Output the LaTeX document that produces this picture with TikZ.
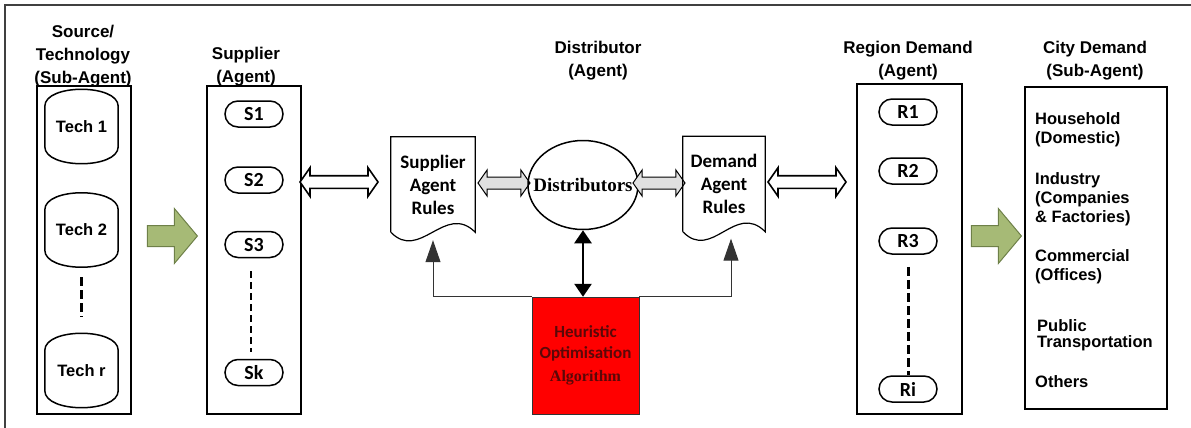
\documentclass[tikz,border=0pt]{standalone}
\usepackage{fontspec}
\setmainfont{Liberation Sans}
\newfontfamily\calibfont{Carlito}
\newfontfamily\timesfont{Liberation Serif}
\usetikzlibrary{shapes.misc,shapes.geometric,shapes.arrows,arrows.meta}
\definecolor{arrowgreen}{RGB}{166,186,118}
\definecolor{arrowedge}{RGB}{110,128,72}
\definecolor{heurtext}{RGB}{90,8,8}
\begin{document}
\begin{tikzpicture}[x=1pt,y=-1pt,
  hd/.style={font=\bfseries\fontsize{17}{23}\selectfont,align=center},
  box/.style={draw,line width=1.3pt,inner sep=0pt},
  can/.style={minimum width=73pt,minimum height=74pt,inner sep=0pt,font=\bfseries\fontsize{16.5}{19}\selectfont},
  pill/.style={rounded rectangle,draw,line width=1.5pt,minimum width=58pt,minimum height=26pt,inner sep=0pt,text depth=0pt,font=\calibfont\bfseries\fontsize{20}{20}\selectfont},
  doc/.style={minimum height=95pt,inner sep=0pt,align=center,font=\calibfont\bfseries\fontsize{19}{23}\selectfont},
  city/.style={anchor=west,align=left,inner sep=0pt,font=\bfseries\fontsize{16.5}{19}\selectfont},
  greenarrow/.style={single arrow,draw=arrowedge,fill=arrowgreen,line width=1pt,minimum height=50pt,inner xsep=0pt,inner ysep=10pt,single arrow head extend=17pt,single arrow tip angle=100},
  hollow/.style={double arrow,draw,line width=1.6pt,fill=white,minimum height=78pt,inner xsep=0pt,inner ysep=5.5pt,double arrow head extend=8pt,double arrow tip angle=110},
  grayarrow/.style={double arrow,draw,line width=1pt,fill=black!12,minimum height=52pt,inner xsep=0pt,inner ysep=5.5pt,double arrow head extend=7pt,double arrow tip angle=110},
  dash3/.style={line width=3pt,dash pattern=on 9pt off 4pt}]
\useasboundingbox (0,0) rectangle (1191,428);
\draw[line width=1.5pt,black!75](1191,5)--(5,5)--(5,428);
\node[hd](srch)at(83,56){Source/\\Technology\\(Sub-Agent)};
\node[box,minimum width=94pt,minimum height=328pt](techbox)at(84,250){};
\node[can](t1)at(81.5,126.5){Tech 1};
\node[can](t2)at(81.5,230){Tech 2};
\node[can](tr)at(81.5,370.5){Tech r};
\foreach \n in {t1,t2,tr}
  \draw[line width=1.5pt]([yshift=-17pt]\n.north west)..controls([yshift=5.7pt]\n.north west)and([yshift=5.7pt]\n.north east)..([yshift=-17pt]\n.north east)
    --([yshift=17pt]\n.south east)..controls([yshift=-5.7pt]\n.south east)and([yshift=-5.7pt]\n.south west)..([yshift=17pt]\n.south west)--cycle;
\draw[dash3]([yshift=-10pt]t2.south)--([yshift=16pt]tr.north);
\node[greenarrow](g1)at(168,236){};
\node[hd](suph)at(246,67){Supplier\\(Agent)};
\node[box,minimum width=94pt,minimum height=328pt](supbox)at(254,250){};
\node[pill](s1)at(254,114){S1};
\node[pill](s2)at(254,180){S2};
\node[pill](s3)at(254,244.5){S3};
\node[pill](sk)at(254,372.5){Sk};
\draw[line width=2pt,dash pattern=on 7pt off 4pt]([xshift=-3pt,yshift=-13pt]s3.south)--([xshift=-3pt,yshift=7pt]sk.north);
\node[hollow](h1)at(339,182){};
\node[doc,minimum width=84pt](sar)at(433,184.5){Supplier\\Agent\\Rules};
\node[grayarrow](g2)at(504,183){};
\node[ellipse,draw,line width=1.5pt,minimum width=110pt,minimum height=89pt,inner sep=0pt,
  label={[font=\timesfont\bfseries\fontsize{19}{19}\selectfont]center:Distributors}](dist)at(583,185){};
\node[grayarrow](g3)at(659,183){};
\node[doc,minimum width=82pt](dar)at(724,184){Demand\\Agent\\Rules};
\foreach \n in {sar,dar}
  \draw[line width=1.2pt](\n.south west)--(\n.north west)--(\n.north east)--(\n.south east)
    ..controls([xshift=-30pt,yshift=30pt]\n.south east)and([xshift=29pt,yshift=-30pt]\n.south west)..(\n.south west);
\node[hollow](h2)at(807,182){};
\node[hd](disth)at(598,60.5){Distributor\\(Agent)};
\node[draw=black!80,fill=red,minimum width=107pt,minimum height=117pt,align=center,text=heurtext,
  font=\calibfont\bfseries\fontsize{17}{21}\selectfont](heur)at(585.5,355.5){Heuristic\\Optimisation\\[2pt]\timesfont\fontsize{16}{20}\selectfont Algorithm};
\draw[line width=2.5pt,{Triangle[width=17pt,length=13pt]}-{Triangle[width=17pt,length=13pt]}](dist.south)--(dist.south|-heur.north);
\draw[line width=1pt,black!80,-{Triangle[width=15pt,length=22pt]}](heur.north west)-|([yshift=-8pt]sar.south);
\draw[line width=1pt,black!80,-{Triangle[width=15pt,length=22pt]}](heur.north east)-|([xshift=7pt,yshift=-7pt]dar.south);
\node[hd](regh)at(908,60.5){Region Demand\\(Agent)};
\node[box,line width=2pt,minimum width=105pt,minimum height=330pt](regbox)at(909.5,249){};
\node[pill](r1)at(908,112){R1};
\node[pill](r2)at(908,171){R2};
\node[pill](r3)at(908,241){R3};
\node[pill](ri)at(908,389){Ri};
\draw[dash3]([yshift=-12pt]r3.south)--(ri.north);
\node[greenarrow](g4)at(992,236){};
\node[hd](cityh)at(1095,60.5){City Demand\\(Sub-Agent)};
\node[box,minimum width=142pt,minimum height=322pt](citybox)at(1096,248){};
\node[city](c1)at(1035,129.5){Household\\(Domestic)};
\node[city](c2)at(1035,199){Industry\\(Companies\\\& Factories)};
\node[city](c3)at(1035,267){Commercial\\(Offices)};
\node[city,font=\bfseries\fontsize{16.5}{16}\selectfont](c4)at(1037,335){Public\\Transportation};
\node[city](c5)at(1035,382){Others};
\end{tikzpicture}
\end{document}
